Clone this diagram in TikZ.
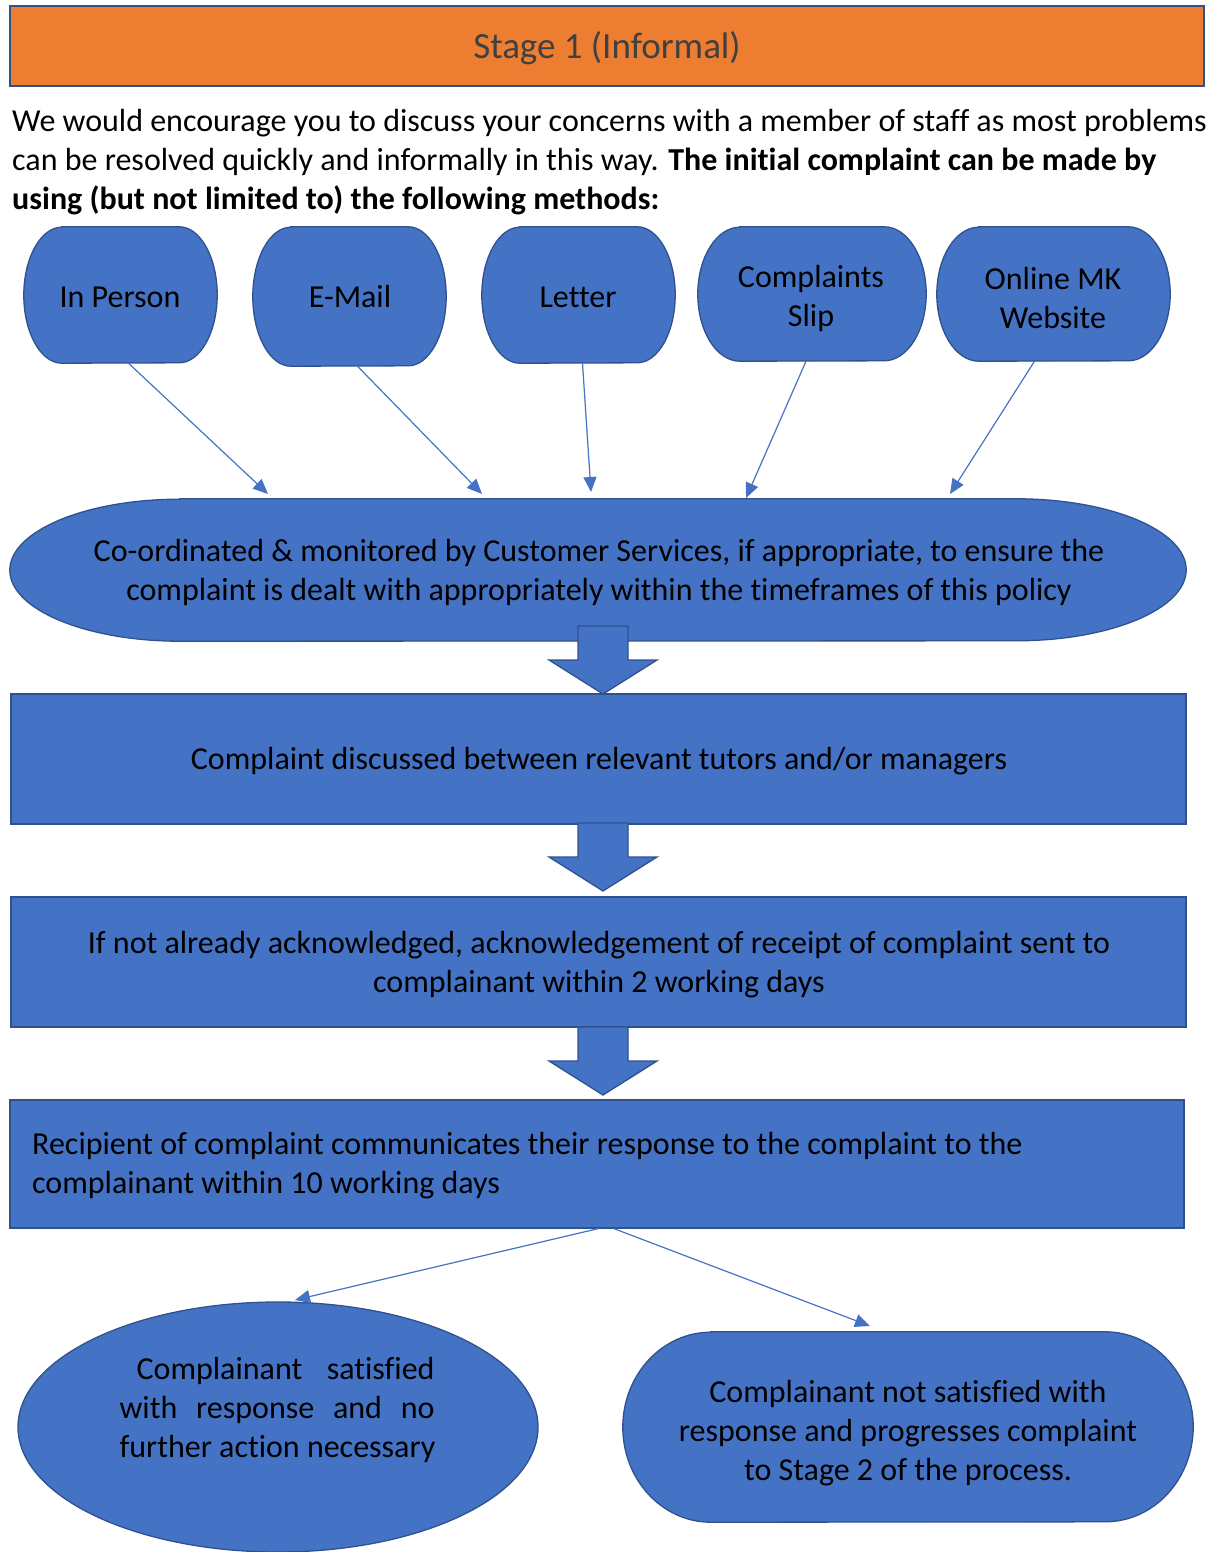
\documentclass[tikz,border=0pt]{standalone}
\usepackage{fontspec}
\setmainfont{Carlito}[Ligatures=NoCommon]
\usetikzlibrary{shapes.geometric,arrows.meta,calc}
\definecolor{bfill}{HTML}{4472C4}
\definecolor{bdraw}{HTML}{2F528F}
\definecolor{orng}{HTML}{ED7D31}
\definecolor{hdrtxt}{HTML}{404040}
\newcommand\capsule[6]{% name cx cy w h rx
  \node[inner sep=0pt,minimum width=#4pt,minimum height=#5pt] (#1) at (#2,#3) {};
  \draw[shp] ($(#1.north west)+(#6,0)$) -- ($(#1.north east)-(#6,0)$)
    arc[start angle=-90,end angle=90,x radius=#6,y radius={#5/2}]
    -- ($(#1.south west)+(#6,0)$)
    arc[start angle=90,end angle=270,x radius=#6,y radius={#5/2}] -- cycle;}
\begin{document}
\begin{tikzpicture}[x=1pt,y=-1pt,
  shp/.style={fill=bfill,draw=bdraw,line width=1.3pt},
  txt/.style={font=\fontsize{32}{39}\selectfont,align=center,text=black},
  box/.style={shp,inner sep=0pt},
  conn/.style={draw=bfill,line width=1.2pt,-{Triangle[length=15pt,width=13pt]}},
  barrow/.pic={\draw[shp] (-25,0) -- (25,0) -- (25,34) -- (54,34) -- (0,68) -- (-54,34) -- (-25,34) -- cycle;}
]
\useasboundingbox (0,0) rectangle (1208,1552);
% header
\node[fill=orng,draw=bdraw,line width=1.5pt,minimum width=1194pt,minimum height=80pt,inner sep=0pt] (hdr) at (607,46) {};
\node[text=hdrtxt,font=\fontsize{37}{44}\selectfont,inner sep=0pt] (hdrtxt) at (607,48) {Stage 1 (Informal)};
% paragraph
\node[txt,align=left,anchor=west,inner sep=0pt] (para) at (12,162) {We would encourage you to discuss your concerns with a member of staff as most problems\\
can be resolved quickly and informally in this way. \textbf{The initial complaint can be made by}\\
\textbf{using (but not limited to) the following methods:}};
% method boxes
\capsule{ip}{120.5}{295}{193}{136}{38}
\capsule{em}{349.5}{296.5}{193}{139}{38}
\capsule{lt}{578.5}{295}{193}{136}{38}
\capsule{cs}{812}{294}{228}{134}{42}
\capsule{om}{1053.5}{294}{233}{134}{42}
\node[txt] (iptxt) at (120,297) {In Person};
\node[txt] (emtxt) at (350,297) {E-Mail};
\node[txt] (lttxt) at (578,297) {Letter};
\node[txt] (cstxt) at (811,298.5) {Complaints\\Slip};
\node[txt] (omtxt) at (1053,298.5) {Online MK\\Website};
% targets
\coordinate (t1) at (268,494);
\coordinate (t2) at (482,494);
\coordinate (t3) at (591,492);
\coordinate (t4) at (746,498);
\coordinate (t5) at (950,494);
\draw[conn] ([xshift=8pt]ip.south) -- (t1);
\draw[conn] ([xshift=8pt]em.south) -- (t2);
\draw[conn] ([xshift=4pt]lt.south) -- (t3);
\draw[conn] ([xshift=-6pt]cs.south) -- (t4);
\draw[conn] ([xshift=-19pt]om.south) -- (t5);
% coordinated shape
\capsule{ell}{598}{570}{1176}{142}{170}
\node[txt] (elltxt) at (599,572) {Co-ordinated \& monitored by Customer Services, if appropriate, to ensure the\\complaint is dealt with appropriately within the timeframes of this policy};
% block arrows
\pic (ba1) at (603,626) {barrow};
\node[box,minimum width=1175pt,minimum height=130pt] (r1) at (598.5,759) {};
\node[txt] (r1txt) at (599,761) {Complaint discussed between relevant tutors and/or managers};
\pic (ba2) at (603,823) {barrow};
\node[box,minimum width=1175pt,minimum height=130pt] (r2) at (598.5,962) {};
\node[txt] (r2txt) at (599,964.5) {If not already acknowledged, acknowledgement of receipt of complaint sent to\\complainant within 2 working days};
\pic (ba3) at (603,1027) {barrow};
\node[box,minimum width=1174pt,minimum height=128pt] (r3) at (597,1164) {};
\node[txt,align=left,anchor=west,inner sep=0pt] (r3txt) at (32,1166) {Recipient of complaint communicates their response to the complaint to the\\complainant within 10 working days};
% outcomes
\coordinate (t6) at (295,1300);
\coordinate (t7) at (870,1326);
\node[shp,ellipse,minimum width=520pt,minimum height=250pt,inner sep=0pt] (sat) at (278,1427) {};
\node[txt,align=left,inner sep=0pt] (sattxt) at (277.5,1410) {\hspace*{17pt}\makebox[298pt]{Complainant\hfill satisfied}\\\makebox[315pt]{with\hfill response\hfill and\hfill no}\\further action necessary};
\capsule{ns}{908}{1427}{570}{190}{88}
\node[txt] (nstxt) at (908,1433) {Complainant not satisfied with\\response and progresses complaint\\to Stage 2 of the process.};
\draw[conn] ([xshift=1pt]r3.south) -- (t6);
\draw[conn] ([xshift=17pt]r3.south) -- (t7);
\end{tikzpicture}
\end{document}
